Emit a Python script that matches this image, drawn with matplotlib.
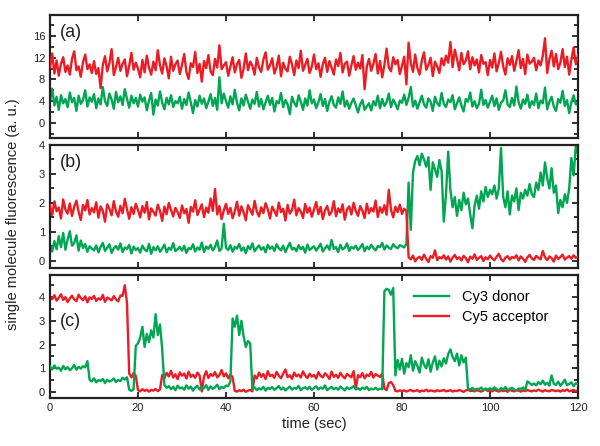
import numpy as np
import matplotlib
matplotlib.use('Agg')
import matplotlib.pyplot as plt
from matplotlib.ticker import MultipleLocator

plt.rcParams['font.family'] = ['Liberation Sans', 'DejaVu Sans']

# sampling step of the traces (sec)
dt = 0.5

# panel (a)
a_red = [10.2, 12.8, 9.1, 11.5, 8.7, 10.9, 12.1, 9.4, 10.6, 8.9, 11.8, 13.2, 9.7, 10.4, 8.5, 11.2, 12.6, 9.9, 10.8, 9.2,
         11.4, 9.0, 10.1, 6.4, 10.7, 12.3, 9.5, 11.0, 13.6, 8.8, 10.3, 12.0, 9.6, 10.9, 11.7, 8.6, 10.5, 12.9, 9.8, 11.1,
         10.0, 8.4, 11.6, 9.3, 12.4, 10.2, 8.9, 11.3, 9.7, 13.4, 10.6, 9.1, 11.9, 10.4, 8.2, 12.2, 9.6, 10.8, 11.5, 9.0,
         10.7, 12.7, 9.4, 8.1, 11.0, 10.3, 13.1, 9.2, 10.9, 7.6, 11.4, 10.1, 12.5, 9.5, 8.8, 11.8, 10.2, 14.3, 9.9, 10.6,
         11.2, 8.7, 10.4, 12.1, 9.3, 10.8, 11.6, 8.3, 10.0, 12.8, 9.7, 11.3, 10.5, 8.9, 12.0, 10.2, 9.4, 11.7, 13.0, 9.8,
         10.6, 11.9, 9.1, 10.3, 12.4, 8.6, 11.1, 10.0, 9.5, 12.2, 10.8, 8.8, 11.5, 10.1, 13.3, 9.6, 10.7, 11.8, 9.2, 10.4,
         12.6, 9.9, 11.0, 8.5, 10.8, 12.0, 9.4, 11.4, 10.2, 8.9, 11.7, 10.5, 12.9, 9.3, 10.9, 11.3, 8.7, 10.6, 12.3, 9.8,
         11.1, 10.0, 12.5, 6.2, 10.4, 11.8, 9.6, 10.9, 12.7, 9.1, 11.4, 8.4, 10.7, 13.7, 10.2, 9.5, 12.1, 10.8, 11.6, 9.0,
         10.5, 12.2, 7.1, 14.8, 11.0, 9.4, 12.6, 10.1, 8.9, 11.5, 13.0, 9.8, 10.7, 12.0, 8.6, 11.3, 10.4, 9.2, 11.9, 10.6,
         12.4, 11.1, 14.9, 10.3, 13.5, 11.8, 9.7, 12.9, 10.8, 11.5, 13.2, 9.9, 12.1, 10.6, 11.7, 9.3, 12.5, 10.9, 11.2, 8.8,
         11.6, 10.2, 12.8, 9.5, 11.0, 13.1, 10.4, 8.9, 11.9, 10.7, 12.3, 9.6, 11.4, 13.4, 10.1, 11.8, 9.0, 12.6, 10.9, 11.3,
         12.0, 9.7, 11.5, 10.6, 12.4, 15.6, 9.2, 11.8, 13.3, 10.4, 12.7, 9.9, 11.1, 13.6, 10.3, 12.2, 8.9, 11.7, 13.9, 10.8,
         12.5]
a_green = [4.1, 6.3, 3.2, 4.8, 2.4, 5.1, 3.6, 4.4, 2.9, 5.6, 3.8, 4.6, 2.2, 5.0, 3.5, 4.2, 6.0, 3.0, 4.7, 3.9,
           5.3, 2.7, 4.5, 3.4, 6.6, 4.0, 3.1, 5.4, 4.3, 2.6, 5.7, 3.8, 4.9, 3.3, 6.2, 4.4, 2.8, 5.0, 3.6, 4.6,
           3.0, 5.2, 3.9, 4.7, 2.3, 4.1, 5.5, 1.5, 4.3, 3.2, 5.8, 3.7, 2.5, 4.6, 3.4, 5.1, 2.9, 4.0, 3.6, 4.8,
           2.6, 4.4, 3.3, 5.6, 3.8, 1.8, 4.2, 3.0, 5.0, 3.5, 4.5, 2.7, 3.9, 5.3, 3.1, 4.6, 2.4, 8.4, 3.6, 5.4,
           4.0, 2.8, 4.9, 3.4, 6.1, 3.7, 2.3, 4.5, 3.2, 5.2, 3.9, 2.6, 4.3, 3.5, 5.7, 3.0, 4.4, 2.5, 3.8, 5.0,
           3.3, 4.6, 2.1, 4.0, 3.6, 5.5, 2.9, 4.2, 3.4, 1.6, 4.8, 3.7, 3.0, 5.1, 3.9, 2.4, 4.5, 3.2, 6.0, 3.6,
           4.3, 2.7, 3.8, 5.3, 3.1, 4.4, 2.2, 3.9, 4.9, 3.3, 2.8, 4.7, 3.5, 5.8, 3.0, 4.1, 2.6, 3.7, 4.5, 3.2,
           1.9, 3.4, 4.2, 2.4, 3.0, 3.6, 2.3, 4.0, 3.2, 5.0, 2.7, 4.4, 3.1, 3.8, 5.4, 2.9, 4.3, 3.5, 2.5, 4.1,
           3.7, 5.2, 3.3, 4.6, 6.6, 3.0, 4.1, 2.6, 3.8, 5.0, 3.4, 2.8, 4.5, 3.9, 2.2, 4.8, 3.6, 3.1, 5.5, 3.5,
           2.9, 4.3, 3.8, 5.1, 2.5, 3.6, 4.7, 3.2, 2.1, 4.4, 3.9, 5.6, 3.0, 4.0, 2.7, 3.5, 6.1, 3.3, 4.2, 2.8,
           3.9, 5.0, 3.1, 4.5, 2.4, 3.7, 4.1, 6.0, 3.4, 2.9, 4.6, 3.2, 6.7, 3.8, 2.6, 4.3, 3.5, 5.2, 2.8, 4.0,
           3.3, 5.4, 2.7, 4.1, 3.6, 6.5, 2.5, 3.9, 4.8, 3.0, 2.2, 4.4, 3.7, 5.9, 3.1, 4.2, 1.8, 3.8, 5.1, 3.4,
           3.6]

# panel (b)
b_red = [1.92, 1.58, 2.05, 1.71, 1.84, 1.46, 2.12, 1.77, 1.63, 1.98, 1.55, 1.86, 2.08, 1.69, 1.41, 1.93, 1.74, 2.10, 1.60, 1.82,
         1.67, 2.02, 1.49, 1.88, 1.73, 1.35, 1.95, 1.80, 1.57, 2.06, 1.70, 1.52, 1.90, 1.64, 2.14, 1.78, 1.45, 1.85, 1.62, 1.97,
         1.75, 1.50, 1.89, 1.66, 2.03, 1.43, 1.81, 1.69, 1.56, 1.94, 1.72, 1.38, 1.87, 1.61, 2.00, 1.76, 1.53, 1.83, 1.68, 1.48,
         1.91, 1.64, 1.79, 1.31, 1.86, 1.70, 2.09, 1.58, 1.77, 1.95, 1.51, 1.84, 1.66, 2.15, 1.72, 2.48, 1.60, 1.89, 1.44, 1.74,
         1.97, 1.62, 1.83, 1.47, 1.71, 2.04, 1.56, 1.88, 1.67, 1.40, 1.92, 1.76, 1.59, 2.07, 1.70, 1.53, 1.85, 1.65, 1.99, 1.78,
         1.46, 1.87, 1.72, 1.55, 2.01, 1.68, 1.80, 1.39, 1.93, 1.63, 1.75, 2.11, 1.57, 1.82, 1.70, 1.48, 1.96, 1.66, 1.84, 1.52,
         1.78, 2.03, 1.61, 1.86, 1.44, 1.74, 1.90, 1.58, 1.69, 2.06, 1.54, 1.81, 1.67, 1.95, 1.42, 1.77, 1.88, 1.60, 2.00, 1.71,
         1.55, 1.89, 1.73, 1.48, 1.97, 1.64, 1.82, 1.70, 2.08, 1.51, 1.85, 1.66, 1.92, 1.59, 2.45, 1.76, 1.50, 1.87, 1.68, 1.94,
         1.62, 1.80, 1.71, 0.12, 0.05, 0.18, -0.02, 0.09, 0.14, 0.03, 0.21, 0.07, -0.04, 0.16, 0.10, 0.36, 0.02, 0.13, 0.08, 0.19,
         0.04, 0.15, -0.03, 0.11, 0.20, 0.06, 0.12, 0.01, 0.17, 0.09, -0.05, 0.14, 0.07, 0.22, 0.03, 0.10, 0.16, -0.01, 0.12, 0.05,
         0.18, 0.08, 0.02, 0.14, 0.24, 0.06, -0.02, 0.11, 0.16, 0.04, 0.13, 0.09, 0.19, 0.01, 0.15, 0.07, -0.04, 0.12, 0.20, 0.08,
         0.03, 0.17, 0.10, 0.05, 0.34, 0.12, 0.02, 0.15, 0.09, -0.03, 0.18, 0.06, 0.13, 0.21, 0.04, 0.11, 0.16, 0.07, 0.19, 0.10,
         0.14]
b_green = [0.55, 0.32, 0.68, 0.40, 0.85, 0.47, 0.96, 0.38, 0.74, 1.02, 0.52, 0.61, 0.88, 0.35, 0.70, 0.44, 0.58, 0.31, 0.50, 0.42,
           0.36, 0.53, 0.29, 0.48, 0.62, 0.34, 0.45, 0.57, 0.27, 0.43, 0.51, 0.38, 0.60, 0.30, 0.46, 0.41, 0.55, 0.25, 0.49, 0.37,
           0.44, 0.28, 0.52, 0.39, 0.33, 0.58, 0.24, 0.47, 0.36, 0.50, 0.31, 0.42, 0.56, 0.29, 0.45, 0.38, 0.61, 0.33, 0.40, 0.48,
           0.35, 0.52, 0.27, 0.44, 0.40, 0.57, 0.32, 0.46, 0.38, 0.63, 0.30, 0.49, 0.41, 0.55, 0.36, 0.47, 0.70, 0.34, 0.43, 1.28,
           0.45, 0.37, 0.54, 0.31, 0.48, 0.42, 0.58, 0.35, 0.46, 0.26, 0.51, 0.40, 0.60, 0.33, 0.44, 0.53, 0.38, 0.47, 0.29, 0.55,
           0.41, 0.49, 0.34, 0.57, 0.43, 0.36, 0.52, 0.30, 0.47, 0.62, 0.39, 0.45, 0.33, 0.54, 0.40, 0.48, 0.28, 0.56, 0.37, 0.44,
           0.50, 0.35, 0.46, 0.59, 0.32, 0.43, 0.53, 0.38, 0.72, 0.41, 0.47, 0.30, 0.55, 0.39, 0.45, 0.60, 0.34, 0.48, 0.42, 0.52,
           0.37, 0.46, 0.58, 0.33, 0.49, 0.40, 0.55, 0.44, 0.36, 0.51, 0.47, 0.62, 0.39, 0.53, 0.45, 0.41, 0.57, 0.48, 0.43, 0.54,
           0.50, 0.46, 0.58, 2.70, 1.07, 3.05, 3.45, 3.62, 3.30, 3.70, 3.50, 3.25, 3.58, 2.45, 3.40, 3.15, 2.90, 3.48, 3.10, 1.35,
           2.30, 3.77, 2.45, 1.85, 2.20, 1.55, 2.10, 1.75, 2.35, 1.95, 2.15, 1.60, 1.12, 1.90, 2.25, 1.80, 2.40, 2.05, 2.55, 2.20,
           2.45, 2.30, 2.60, 2.15, 2.50, 3.90, 2.20, 1.85, 2.40, 1.60, 2.25, 2.05, 2.50, 1.75, 2.35, 2.15, 2.45, 2.25, 2.65, 2.30,
           2.20, 2.70, 2.45, 3.05, 2.60, 3.40, 2.85, 2.50, 3.20, 2.35, 2.60, 1.65, 2.10, 1.85, 2.30, 2.00, 2.50, 3.55, 2.95, 3.95,
           3.70]

# panel (c)
c_red = [4.02, 3.91, 4.08, 3.85, 3.97, 4.12, 3.88, 4.00, 3.79, 3.94, 4.06, 3.90, 3.83, 4.10, 3.96, 3.87, 4.03, 3.78, 3.99, 3.92,
         4.05, 3.84, 3.95, 3.89, 4.09, 3.80, 3.98, 3.93, 3.86, 4.04, 3.90, 3.82, 4.07, 4.05, 4.50, 3.75, 0.78, 0.62, 0.80, 0.68,
         0.08, 0.03, 0.12, 0.05, 0.10, 0.02, 0.09, 0.06, 0.13, 0.04, 0.11, 0.72, 0.58, 0.81, 0.66, 0.90, 0.61, 0.75, 0.54, 0.83,
         0.69, 0.78, 0.57, 0.86, 0.64, 0.73, 0.60, 0.82, 0.70, 0.03, 0.65, 0.88, 0.59, 0.76, 0.68, 0.84, 0.62, 0.71, 0.93, 0.66,
         0.79, 0.58, 0.74, 0.63, 0.05, 0.02, 0.08, 0.04, 0.10, 0.01, 0.06, 0.09, 0.03, 0.70, 0.57, 0.82, 0.64, 0.76, 0.55, 0.88,
         0.67, 0.73, 0.60, 0.85, 0.69, 0.58, 0.78, 0.95, 0.63, 0.71, 0.56, 0.82, 0.66, 0.74, 0.61, 0.87, 0.70, 0.59, 0.77, 0.65,
         0.72, 0.57, 0.84, 0.68, 0.62, 0.79, 0.70, 0.55, 0.86, 0.64, 0.73, 0.60, 0.81, 0.67, 0.58, 0.76, 0.69, 0.62, 0.88, 0.15,
         0.71, 0.63, 0.80, 0.58, 0.74, 0.67, 0.85, 0.61, 0.76, 0.69, 0.64, 0.78, 0.15, 0.08, 0.38, 0.42, 0.30, 0.05, 0.03, 0.07,
         0.04, 0.07, 0.02, 0.06, 0.09, 0.03, 0.05, 0.08, 0.01, 0.06, 0.04, 0.10, 0.03, 0.07, 0.05, 0.02, 0.08, 0.04, 0.06, 0.09,
         0.03, 0.05, 0.08, 0.02, 0.06, 0.04, 0.09, 0.05, 0.01, 0.07, 0.10, 0.04, 0.06, 0.03, 0.08, 0.05, 0.02, 0.07, 0.12, 0.04,
         0.06, 0.03, 0.09, 0.05, 0.02, 0.08, 0.04, 0.07, 0.01, 0.10, 0.05, 0.03, 0.08, 0.06, 0.02, 0.07, 0.04, 0.09, 0.05, 0.03,
         0.07, 0.04, 0.10, 0.06, 0.02, 0.08, 0.05, 0.03, 0.09, 0.06, 0.04, 0.07, 0.02, 0.08, 0.05, 0.11, 0.03, 0.06, 0.09, 0.04,
         0.06]
c_green = [1.08, 0.95, 1.12, 0.98, 1.03, 0.90, 1.10, 0.96, 1.05, 0.92, 1.00, 1.14, 0.94, 1.06, 0.99, 1.09, 1.04, 1.30, 0.52, 0.45,
           0.58, 0.41, 0.50, 0.47, 0.55, 0.38, 0.52, 0.44, 0.49, 0.57, 0.42, 0.51, 0.46, 0.60, 0.53, 0.62, 0.10, 0.05, 0.12, 1.95,
           2.05, 2.30, 2.75, 1.90, 2.45, 2.10, 2.60, 2.30, 3.28, 2.40, 2.85, 1.80, 0.30, 0.18, 0.25, 0.12, 0.22, 0.08, 0.27, 0.15,
           0.20, 0.10, 0.28, 0.14, 0.23, 0.06, 0.19, 0.26, 0.11, 0.21, 0.16, 0.29, 0.09, 0.24, 0.13, 0.20, 0.31, 0.12, 0.22, 0.17,
           0.27, 0.25, 0.45, 3.10, 2.75, 3.22, 2.40, 3.00, 2.35, 1.90, 2.15, 2.05, 0.12, 0.20, 0.08, 0.16, 0.11, 0.22, 0.06, 0.18,
           0.13, 0.21, 0.09, 0.17, 0.25, 0.11, 0.19, 0.07, 0.15, 0.23, 0.10, 0.18, 0.14, 0.26, 0.08, 0.16, 0.20, 0.12, 0.22, 0.09,
           0.17, 0.24, 0.11, 0.19, 0.14, 0.28, 0.08, 0.16, 0.21, 0.12, 0.18, 0.10, 0.23, 0.15, 0.07, 0.20, 0.13, 0.17, 0.25, 0.11,
           0.16, 0.09, 0.19, 0.13, 0.22, 0.08, 0.15, 0.11, 0.18, 0.10, 0.14, 0.12, 4.25, 4.35, 4.30, 4.10, 4.38, 0.70, 1.35, 0.95,
           1.40, 0.78, 1.22, 1.05, 1.55, 0.90, 1.30, 1.10, 0.82, 1.45, 1.15, 1.00, 1.38, 0.86, 1.25, 1.50, 0.95, 1.32, 1.08, 1.42,
           1.20, 1.60, 1.80, 1.48, 1.30, 1.62, 1.12, 1.55, 1.25, 1.45, 0.15, 0.10, 0.18, 0.08, 0.14, 0.12, 0.19, 0.07, 0.15, 0.10,
           0.16, 0.09, 0.20, 0.12, 0.07, 0.17, 0.11, 0.21, 0.08, 0.14, 0.18, 0.10, 0.06, 0.15, 0.13, 0.19, 0.09, 0.45, 0.38, 0.30,
           0.36, 0.28, 0.42, 0.33, 0.48, 0.31, 0.39, 0.27, 0.70, 0.35, 0.30, 0.44, 0.26, 0.38, 0.52, 0.29, 0.34, 0.41, 0.25, 0.37,
           0.32]

red = '#ec1c24'
green = '#00a651'

# label, acceptor, donor, y range, major/minor y step, label height
panels = [
    ('(a)', a_red, a_green, (-2.8, 19.9), 4, 2, 0.855),
    ('(b)', b_red, b_green, (-0.25, 4.0), 1, 0.5, 0.855),
    ('(c)', c_red, c_green, (-0.25, 4.93), 1, 0.5, 0.62),
]

fig = plt.figure(figsize=(6, 4.46), dpi=100)
left, width, height = 50 / 600, 528 / 600, 123 / 446
bottoms = [1 - 138 / 446, 1 - 268 / 446, 1 - 398 / 446]

axes = []
for i, (lab, r, g, ylim, major, minor, ly) in enumerate(panels):
    ax = fig.add_axes([left, bottoms[i], width, height])
    t_r = np.arange(len(r)) * dt
    t_g = np.arange(len(g)) * dt
    # in panel (c) the donor is drawn on top, elsewhere the acceptor
    if i == 2:
        ax.plot(t_r, r, color=red, lw=1.7, label='Cy5 acceptor', zorder=2)
        ax.plot(t_g, g, color=green, lw=1.7, label='Cy3 donor', zorder=3)
    else:
        ax.plot(t_g, g, color=green, lw=1.7, zorder=2)
        ax.plot(t_r, r, color=red, lw=1.7, zorder=3)
    ax.set_xlim(0, 120)
    ax.set_ylim(*ylim)
    ax.xaxis.set_major_locator(MultipleLocator(20))
    ax.yaxis.set_major_locator(MultipleLocator(major))
    ax.yaxis.set_minor_locator(MultipleLocator(minor))
    ax.tick_params(which='both', direction='in', top=True, right=True, width=1.3, labelsize=8, colors='#222222')
    ax.tick_params(which='major', length=4.5)
    ax.tick_params(which='minor', length=3)
    for s in ax.spines.values():
        s.set_linewidth(1.6)
        s.set_color('#222222')
    ax.text(0.018, ly, lab, transform=ax.transAxes, ha='left', va='center', fontsize=13, color='#222222')
    if i < 2:
        ax.tick_params(labelbottom=False)
    axes.append(ax)

h, l = axes[2].get_legend_handles_labels()
axes[2].legend(h[::-1], l[::-1], loc='upper left', frameon=False, fontsize=10.5,
               handlelength=2.4, handletextpad=0.9, borderpad=0, borderaxespad=0,
               labelspacing=0.45, bbox_to_anchor=(0.69, 0.88))

axes[2].set_xlabel('time (sec)', fontsize=10.5, color='#222222', labelpad=3)
fig.text(0.022, 0.52, 'single molecule fluorescence (a. u.)', rotation=90, ha='center', va='center',
         fontsize=10.5, color='#222222')

fig.savefig('out.png', dpi=100)
